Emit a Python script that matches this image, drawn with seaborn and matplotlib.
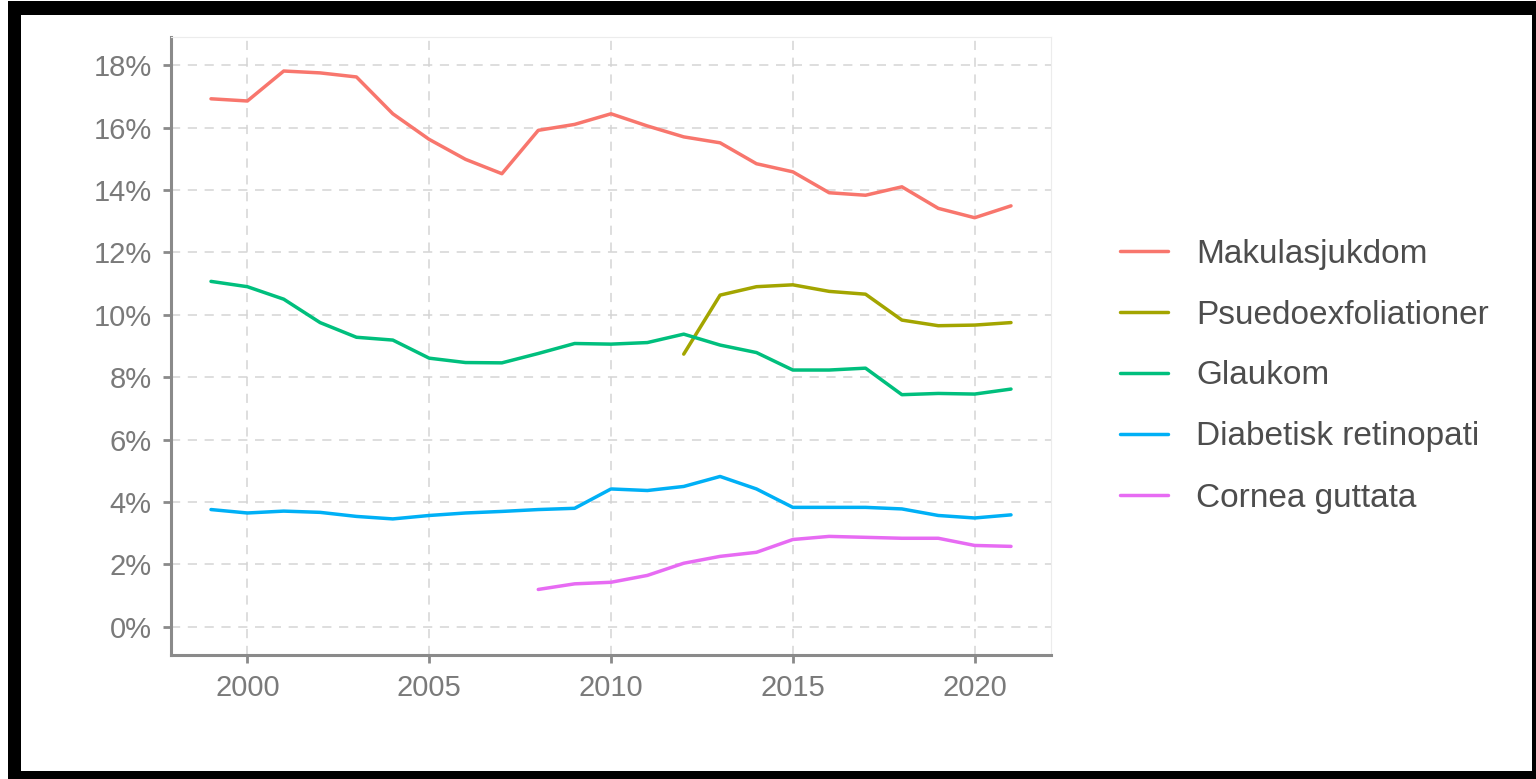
import numpy as np
import pandas as pd
import matplotlib
matplotlib.use("Agg")
import matplotlib.pyplot as plt
from matplotlib.patches import Rectangle
from matplotlib.ticker import PercentFormatter
import seaborn as sns

# data (share of cases)
years = list(range(1999, 2022))

makula = [16.92, 16.85, 17.81, 17.75, 17.62, 16.44, 15.62, 14.98, 14.52, 15.91, 16.10, 16.44,
          16.05, 15.70, 15.51, 14.84, 14.58, 13.91, 13.83, 14.10, 13.41, 13.11, 13.49]
pseudo_years = list(range(2012, 2022))
pseudo = [8.74, 10.63, 10.90, 10.96, 10.75, 10.66, 9.83, 9.65, 9.67, 9.75]
glaukom = [11.07, 10.90, 10.50, 9.75, 9.28, 9.19, 8.61, 8.47, 8.46, 8.76, 9.08, 9.06,
           9.11, 9.38, 9.03, 8.79, 8.23, 8.23, 8.29, 7.44, 7.48, 7.46, 7.62]
diabetes = [3.76, 3.65, 3.71, 3.67, 3.54, 3.46, 3.57, 3.65, 3.70, 3.76, 3.80, 4.42,
            4.37, 4.50, 4.82, 4.42, 3.83, 3.83, 3.83, 3.78, 3.57, 3.49, 3.59]
cornea_years = list(range(2008, 2022))
cornea = [1.20, 1.38, 1.43, 1.65, 2.04, 2.26, 2.39, 2.80, 2.90, 2.87, 2.84, 2.84, 2.61, 2.58]

labels = ["Makulasjukdom", "Psuedoexfoliationer", "Glaukom",
          "Diabetisk retinopati", "Cornea guttata"]
colors = ["#F8766D", "#A3A500", "#00BF7D", "#00B0F6", "#E76BF3"]

frames = []
for lab, xs, ys in zip(labels,
                       [years, pseudo_years, years, years, cornea_years],
                       [makula, pseudo, glaukom, diabetes, cornea]):
    frames.append(pd.DataFrame({"year": xs, "share": np.array(ys) / 100, "diagnos": lab}))
df = pd.concat(frames, ignore_index=True)

sns.set_theme(style="white")
plt.rcParams["font.family"] = ["Liberation Sans", "DejaVu Sans"]

W, H = 1536, 779
fig = plt.figure(figsize=(W / 100, H / 100), dpi=100)
fig.patch.set_facecolor("white")

# black frame around the picture
fig.add_artist(Rectangle((8 / W, 0), 1 - 8 / W, 1 - 1 / H, transform=fig.transFigure,
                         facecolor="black", edgecolor="none", zorder=-3))
fig.add_artist(Rectangle((21 / W, 8 / H), (1532 - 21) / W, (771 - 15) / H,
                         transform=fig.transFigure, facecolor="white",
                         edgecolor="none", zorder=-2))

ax = fig.add_axes([171 / W, 1 - 655 / H, (1051 - 171) / W, (655 - 37) / H])
ax.set_facecolor("white")

sns.lineplot(data=df, x="year", y="share", hue="diagnos", hue_order=labels,
             palette=colors, linewidth=2.5, ax=ax, legend=False)

ax.set_xlim(1997.9, 2022.1)
ax.set_ylim(-0.009, 0.189)
ax.set_xticks([2000, 2005, 2010, 2015, 2020])
ax.set_yticks(np.arange(0, 0.19, 0.02))
ax.yaxis.set_major_formatter(PercentFormatter(xmax=1, decimals=0))
ax.set_xlabel("")
ax.set_ylabel("")

ax.grid(True, color="#d4d4d4", linestyle=(0, (6, 5)), linewidth=1.1)
ax.set_axisbelow(True)

for side in ["top", "right"]:
    ax.spines[side].set_color("#ececec")
    ax.spines[side].set_linewidth(0.8)
for side in ["left", "bottom"]:
    ax.spines[side].set_color("#8a8a8a")
    ax.spines[side].set_linewidth(2.2)

ax.tick_params(axis="both", length=6, width=2, color="#8a8a8a",
               labelcolor="#7a7a7a", labelsize=21, pad=8, direction="out")
ax.tick_params(axis="y", left=True)
ax.tick_params(axis="x", bottom=True)

handles = [plt.Line2D([], [], color=c, linewidth=2.5) for c in colors]
fig.legend(handles, labels, loc="center left", bbox_to_anchor=(1120 / W, 1 - 376 / H),
           frameon=False, fontsize=24, labelcolor="#4d4d4d", handlelength=1.44,
           handletextpad=0.84, labelspacing=0.9, borderpad=0, borderaxespad=0)

fig.savefig("out.png", dpi=100)
